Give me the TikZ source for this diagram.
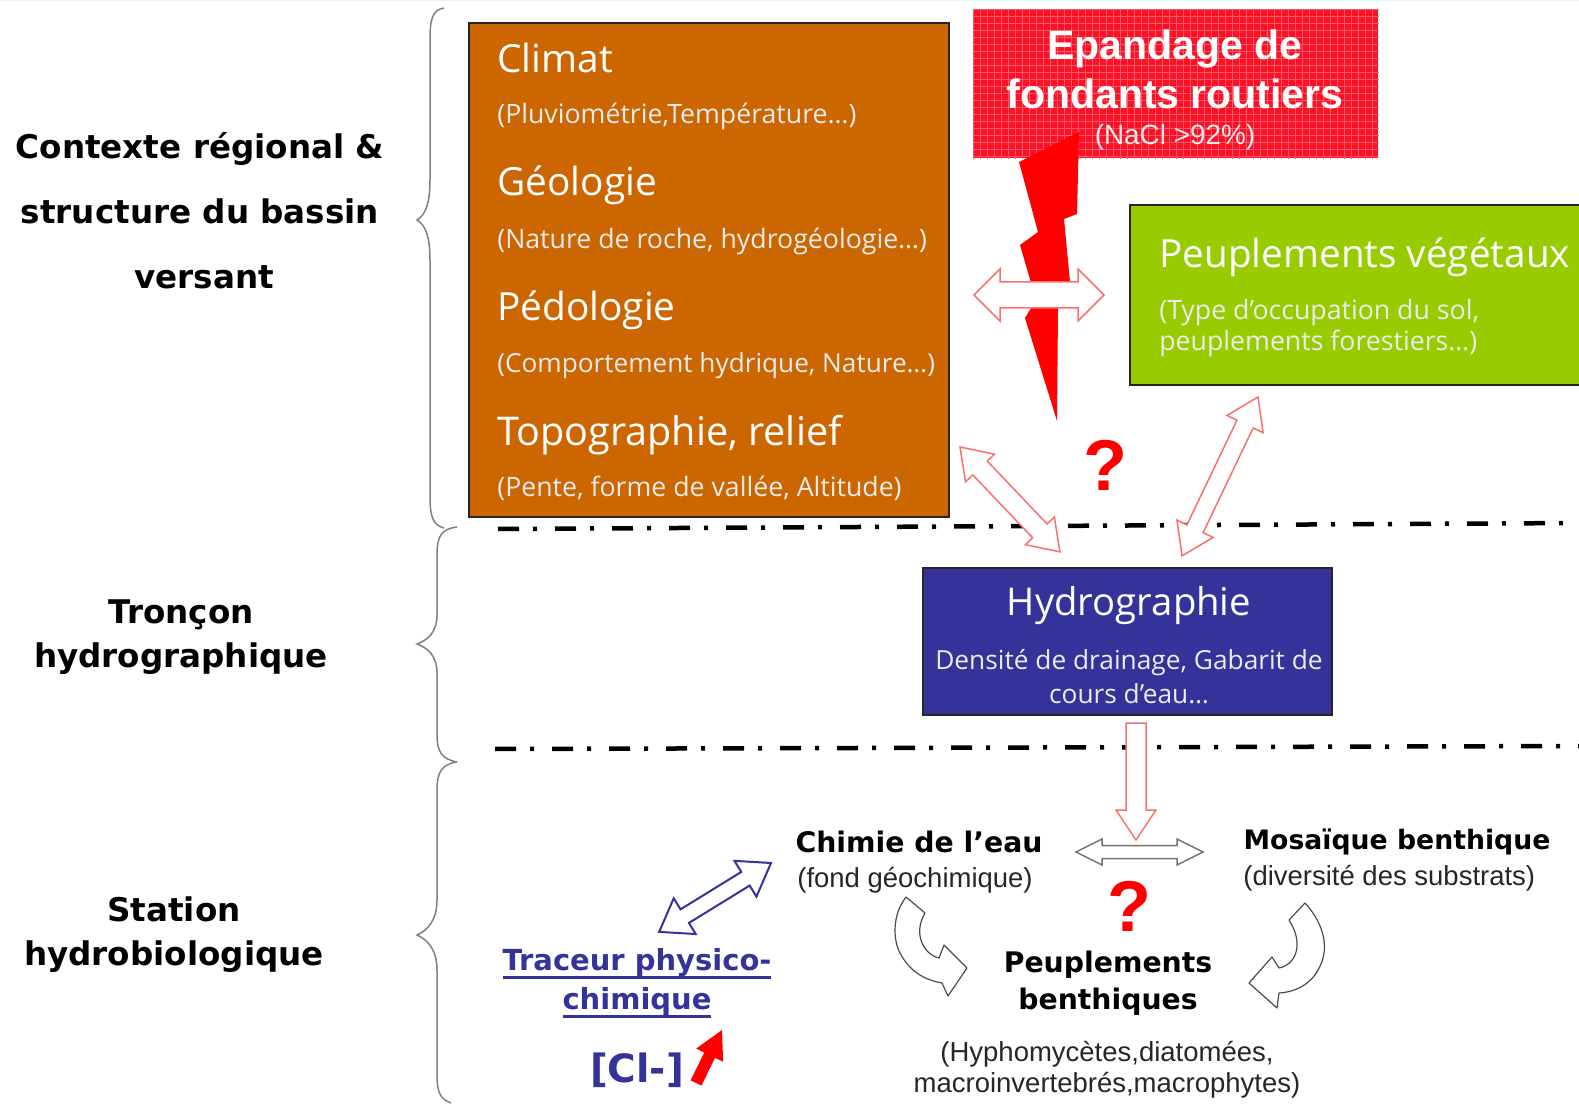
\documentclass[tikz,border=0pt]{standalone}
\usepackage{fontspec}
\setmainfont{Open Sans}
\newfontfamily\verdanafont{DejaVu Sans}
\newfontfamily\arialfont{Liberation Sans}
\usetikzlibrary{calc}

\definecolor{orangebox}{HTML}{CC6600}
\definecolor{greenbox}{HTML}{99CC00}
\definecolor{bluebox}{HTML}{333399}
\definecolor{redbox}{HTML}{FB1226}
\definecolor{redgrid}{HTML}{FF5868}
\definecolor{arrowred}{HTML}{F87070}

\def\px{0.02cm}
% px size of a font and its leading, both in pixels of the reference
\newcommand{\pxfont}[2]{\fontsize{\fpeval{#1*0.569}pt}{\fpeval{#2*0.569}pt}\selectfont}
% thick underline
\newcommand{\thickline}[1]{\setbox0\hbox{#1}\rlap{\rule[-4.6pt]{\wd0}{1.6pt}}\box0}

% hollow arrow with two heads: style, from, to, head length, head half width, shaft half width
\newcommand{\twoarrow}[6]{
    \draw[#1] let \p1=($(#3)-(#2)$), \n1={veclen(\x1,\y1)}, \n2={atan2(\y1,\x1)} in
        [shift={(#2)},rotate=\n2]
        (0pt,0pt) -- (#4*\px,#5*\px) -- (#4*\px,#6*\px) -- (\n1-#4*\px,#6*\px) -- (\n1-#4*\px,#5*\px)
        -- (\n1,0pt) -- (\n1-#4*\px,-#5*\px) -- (\n1-#4*\px,-#6*\px) -- (#4*\px,-#6*\px) -- (#4*\px,-#5*\px) -- cycle;
}
% same with one head
\newcommand{\onearrow}[6]{
    \draw[#1] let \p1=($(#3)-(#2)$), \n1={veclen(\x1,\y1)}, \n2={atan2(\y1,\x1)} in
        [shift={(#2)},rotate=\n2]
        (0pt,#6*\px) -- (\n1-#4*\px,#6*\px) -- (\n1-#4*\px,#5*\px)
        -- (\n1,0pt) -- (\n1-#4*\px,-#5*\px) -- (\n1-#4*\px,-#6*\px) -- (0pt,-#6*\px) -- cycle;
}

\tikzset{
    box/.style={draw=black!85, line width=2*\px, anchor=north west, inner sep=0pt},
    head/.style={anchor=west, text=white, inner sep=0pt, font=\pxfont{38.8}{44}},
    sub/.style={anchor=west, text=white!92!black, inner sep=0pt, font=\pxfont{26.7}{31}, align=left},
    side/.style={inner sep=0pt, align=center, font=\verdanafont\bfseries\pxfont{32.6}{44}},
    blk/.style={inner sep=0pt, align=center, font=\verdanafont\bfseries\pxfont{28.3}{37.5}},
    note/.style={inner sep=0pt, align=center, text=black!85, font=\arialfont\pxfont{27.5}{31}},
    ask/.style={inner sep=0pt, text=red, font=\arialfont\bfseries\pxfont{72}{72}},
    redarrow/.style={draw=arrowred, fill=white, line width=1.5*\px},
    greyarrow/.style={draw=black!55, fill=white, line width=1.5*\px},
    bluearrow/.style={draw=bluebox, fill=white, line width=2*\px},
    curlarrow/.style={draw=black!70, fill=white, line width=1.2*\px, line join=round},
    brace/.style={draw=black!50, line width=1.5*\px},
    border/.style={black, line width=4.5*\px, dash pattern=on 21*\px off 14*\px on 4*\px off 18*\px},
}

\begin{document}
\begin{tikzpicture}[x=\px,y=-\px]
    \useasboundingbox (0,0) rectangle (1579,1104);

    % top edge
    \draw[cyan!12, line width=2*\px] (0,0) -- (1579,0);

    % braces
    \draw[brace] (444,8) .. controls (432,10) and (430,20) .. (430,40) -- (430,180)
        .. controls (430,205) and (425,215) .. (417,220) .. controls (425,225) and (430,235) .. (430,260)
        -- (430,495) .. controls (430,515) and (432,525) .. (444,528);
    \draw[brace] (457,527) .. controls (442,529) and (437,535) .. (437,555) -- (437,615)
        .. controls (437,632) and (428,640) .. (417,644) .. controls (428,648) and (437,656) .. (437,673)
        -- (437,735) .. controls (437,752) and (442,759) .. (457,762);
    \draw[brace] (457,762) .. controls (442,764) and (437,772) .. (437,790) -- (437,900)
        .. controls (437,920) and (428,930) .. (417,935) .. controls (428,940) and (437,950) .. (437,970)
        -- (437,1075) .. controls (437,1092) and (440,1099) .. (451,1103);

    % dash dot lines
    \coordinate (upL) at (498,529);
    \coordinate (upR) at (1579,523);
    \coordinate (lowL) at (495,749);
    \coordinate (lowR) at (1579,746);
    \draw[border] (upL) -- (upR);
    \draw[border] (lowL) -- (lowR);

    % side labels
    \node[side, font=\verdanafont\bfseries\pxfont{32.6}{65}] (ctx) at (200,211) {Contexte régional \&\\structure du bassin\\\hspace*{8\dimexpr\px\relax}versant};
    \node[side] (trc) at (181,637) {Tronçon\\hydrographique};
    \node[side] (stn) at (174,935) {Station\\hydrobiologique};

    % orange box
    \node[box, fill=orangebox, minimum width=480*\px, minimum height=494*\px] (milieu) at (468,22) {};
    \node[head] (climat) at (497,58) {Climat};
    \node[sub] (climatsub) at (497,116) {(Pluviométrie,Température…)};
    \node[head] (geol) at (497,185) {Géologie};
    \node[sub] (geolsub) at (497,241) {(Nature de roche, hydrogéologie…)};
    \node[head] (pedo) at (497,310) {Pédologie};
    \node[sub, font=\pxfont{26.2}{31}] (pedosub) at (497,366) {(Comportement hydrique, Nature…)};
    \node[head, font=\pxfont{39.6}{44}] (topo) at (497,435) {Topographie, relief};
    \node[sub] (toposub) at (497,488) {(Pente, forme de vallée, Altitude)};

    % red box
    \node[anchor=north west, inner sep=0pt, fill=redbox, minimum width=405*\px, minimum height=148*\px] (epandage) at (973,10) {};
    \foreach \i in {0,...,57}
        \draw[redgrid, line width=1*\px] ($(epandage.north west)+(\i*7,0)$) -- ($(epandage.south west)+(\i*7,0)$);
    \foreach \j in {0,...,21}
        \draw[redgrid, line width=1*\px] ($(epandage.north west)+(0,\j*7)$) -- ($(epandage.north east)+(0,\j*7)$);
    \node[inner sep=0pt, align=center, text=white, font=\arialfont\bfseries\pxfont{41}{49}] (epandagetxt) at (1175,69) {Epandage de\\fondants routiers};
    \node[inner sep=0pt, text=white!92!black, font=\arialfont\pxfont{27.9}{31}] (nacl) at (1175,137) {(NaCl >92\%)};

    % lightning
    \fill[red] (1079,132) -- (1019,162) -- (1038,232) -- (1020,245) -- (1036,300) -- (1025,318)
        -- (1057,421) -- (1058,309) -- (1070,282) -- (1064,219) -- (1077,214) -- cycle;

    % green box
    \node[box, fill=greenbox, minimum width=460*\px, minimum height=180*\px] (vegetal) at (1129,204) {};
    \node[head, font=\pxfont{38.7}{44}] (vegetaltxt) at (1159,257) {Peuplements végétaux};
    \node[sub] (vegetalsub) at (1159,328.5) {(Type d’occupation du sol,\\peuplements forestiers…)};

    % blue box
    \node[box, fill=bluebox, minimum width=409*\px, minimum height=147*\px] (hydro) at (922,567) {};
    \node[inner sep=0pt, text=white, font=\pxfont{38.3}{44}] (hydrotxt) at (1129,606) {Hydrographie};
    \node[inner sep=0pt, align=center, text=white!92!black, font=\pxfont{26.3}{34}] (hydrosub) at (1129,677) {Densité de drainage, Gabarit de\\cours d’eau…};

    % question marks
    \node[ask] (askup) at (1105,465) {?};
    \node[ask] (asklow) at (1129,906) {?};

    % hollow arrows
    \coordinate (a1) at (974,295);
    \coordinate (b1) at (1104,295);
    \twoarrow{redarrow}{a1}{b1}{26}{26}{13}
    \coordinate (a2) at (960,447);
    \coordinate (b2) at (1060,552);
    \twoarrow{redarrow}{a2}{b2}{29}{20}{10}
    \coordinate (a3) at (1258,397);
    \coordinate (b3) at (1182,556);
    \twoarrow{redarrow}{a3}{b3}{30}{20}{9}
    \coordinate (a5) at (1076,852);
    \coordinate (b5) at (1203,852);
    \twoarrow{greyarrow}{a5}{b5}{26}{13}{6.5}
    \coordinate (a4) at (1136,723);
    \coordinate (b4) at (1136,840);
    \onearrow{redarrow}{a4}{b4}{30}{20}{10}
    \coordinate (a6) at (771,863);
    \coordinate (b6) at (659,932);
    \twoarrow{bluearrow}{a6}{b6}{30}{21}{8}

    % bottom row
    \node[blk] (chimie) at (919,842) {Chimie de l’eau};
    \node[note, anchor=west] (chimiesub) at (797,880) {(fond géochimique)};
    \node[blk, font=\verdanafont\bfseries\pxfont{26.7}{37}] (mosaique) at (1397,842) {Mosaïque benthique};
    \node[note, anchor=west] (mosaiquesub) at (1243,878) {(diversité des substrats)};
    \node[blk] (benth) at (1108,983) {Peuplements\\benthiques};
    \node[note] (benthsub) at (1107,1070) {(Hyphomycètes,diatomées,\\macroinvertebrés,macrophytes)};
    \node[blk, text=bluebox, font=\verdanafont\bfseries\pxfont{29}{39}] (traceur) at (637,983) {\thickline{Traceur physico-}\\\thickline{chimique}};
    \node[inner sep=0pt, text=bluebox, font=\verdanafont\bfseries\pxfont{39}{44}] (cl) at (637,1070) {[Cl-]};

    % small red arrow
    \coordinate (c1) at (696,1083);
    \coordinate (c2) at (722,1030);
    \onearrow{draw=none,fill=red}{c1}{c2}{28}{15}{6}

    % curled arrows
    \draw[curlarrow] (906,897) .. controls (892,915) and (893,940) .. (900,953) .. controls (910,972) and (925,980) .. (942,983)
        -- (948,996) -- (967,968) -- (944,945) -- (939,958) .. controls (925,955) and (912,935) .. (925,913) -- cycle;
    \draw[curlarrow] (1305,903) .. controls (1325,925) and (1330,950) .. (1318,970) .. controls (1310,985) and (1295,992) .. (1279,993)
        -- (1277,1008) -- (1249,983) -- (1272,957) -- (1279,968) .. controls (1295,965) and (1305,945) .. (1289,920) -- cycle;
\end{tikzpicture}
\end{document}
